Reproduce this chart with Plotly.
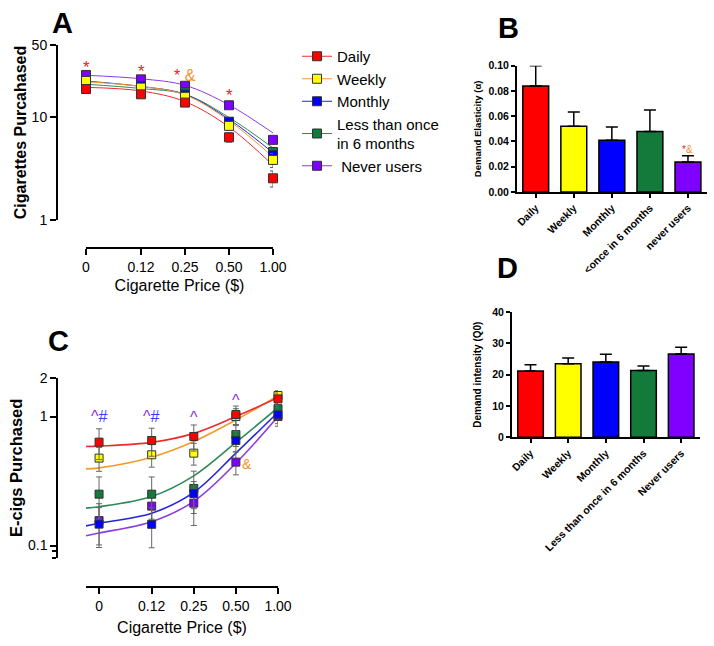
import math
import plotly.graph_objects as go

W, H = 714, 646
FONT = "Liberation Sans, Arial, Helvetica, sans-serif"

# ---------------- data ----------------
prices = ["0", "0.12", "0.25", "0.50", "1.00"]
group_names = ["Daily", "Weekly", "Monthly", "Less than once<br>in 6 months", " Never users"]
group_colors = ["#FF0000", "#FFFF00", "#0000FF", "#137A3C", "#7F00FF"]
fit_colors = ["#EE2B2B", "#F29A2E", "#2525D8", "#2E8B57", "#8B3BE6"]

# Panel A: cigarettes purchased
cig_daily = [18.7, 16.6, 13.8, 6.35, 2.54]
cig_weekly = [22.4, 19.3, 15.7, 8.2, 3.83]
cig_monthly = [22.0, 20.0, 16.5, 8.9, 4.27]
cig_less6 = [20.3, 18.3, 17.4, 9.0, 4.57]
cig_never = [25.6, 23.2, 20.1, 13.0, 6.0]
cig_err_daily = [1.2, 1.0, 0.9, 0.65, 0.45]
cig_err_weekly = [1.5, 1.2, 1.0, 0.7, 0.6]
cig_err_monthly = [1.4, 1.2, 1.0, 0.6, 0.45]
cig_err_less6 = [1.3, 1.1, 1.0, 0.7, 0.5]
cig_err_never = [1.6, 1.4, 1.2, 0.8, 0.5]
cig_fit_daily = [19.4, 17.9, 14.1, 8.0, 3.4]
cig_fit_weekly = [22.0, 19.8, 16.4, 9.2, 4.1]
cig_fit_monthly = [22.3, 19.8, 16.6, 9.5, 4.5]
cig_fit_less6 = [20.8, 18.9, 16.6, 9.9, 5.0]
cig_fit_never = [25.4, 23.5, 20.3, 13.1, 7.0]

# Panel C: e-cigs purchased
ecig_daily = [0.633, 0.652, 0.70, 1.036, 1.37]
ecig_weekly = [0.476, 0.505, 0.52, 1.0, 1.455]
ecig_monthly = [0.1465, 0.146, 0.253, 0.652, 1.03]
ecig_less6 = [0.25, 0.25, 0.277, 0.725, 1.15]
ecig_never = [0.156, 0.202, 0.213, 0.443, 1.0]
ecig_err_daily = [0.17, 0.16, 0.16, 0.17, 0.15]
ecig_err_weekly = [0.10, 0.10, 0.10, 0.15, 0.13]
ecig_err_monthly = [0.05, 0.05, 0.06, 0.12, 0.15]
ecig_err_less6 = [0.09, 0.09, 0.10, 0.14, 0.12]
ecig_err_never = [0.055, 0.06, 0.07, 0.09, 0.16]
# fitted curves: value at axis start, then at each price
ecig_fit_daily = [0.585, 0.59, 0.63, 0.74, 1.0, 1.40]
ecig_fit_weekly = [0.393, 0.40, 0.484, 0.64, 0.94, 1.45]
ecig_fit_monthly = [0.142, 0.149, 0.178, 0.258, 0.52, 1.08]
ecig_fit_less6 = [0.195, 0.20, 0.24, 0.347, 0.63, 1.17]
ecig_fit_never = [0.119, 0.125, 0.153, 0.22, 0.435, 1.0]

# Panel B: demand elasticity
b_labels = ["Daily", "Weekly", "Monthly", "&lt;once in 6 months", "never users"]
elasticity = [0.084, 0.052, 0.041, 0.048, 0.0237]
elasticity_err = [0.016, 0.0113, 0.0105, 0.017, 0.005]

# Panel D: demand intensity
d_labels = ["Daily", "Weekly", "Monthly", "Less than once in 6 months", "Never users"]
intensity = [21.2, 23.5, 24.06, 21.3, 26.6]
intensity_err = [2.0, 1.8, 2.45, 1.5, 2.15]

cig_vals = [cig_daily, cig_weekly, cig_monthly, cig_less6, cig_never]
cig_errs = [cig_err_daily, cig_err_weekly, cig_err_monthly, cig_err_less6, cig_err_never]
cig_fits = [cig_fit_daily, cig_fit_weekly, cig_fit_monthly, cig_fit_less6, cig_fit_never]
ecig_vals = [ecig_daily, ecig_weekly, ecig_monthly, ecig_less6, ecig_never]
ecig_errs = [ecig_err_daily, ecig_err_weekly, ecig_err_monthly, ecig_err_less6, ecig_err_never]
ecig_fits = [ecig_fit_daily, ecig_fit_weekly, ecig_fit_monthly, ecig_fit_less6, ecig_fit_never]

# ---------------- layout helpers ----------------
def fx(px):
    return px / W

def fy(py):
    return 1 - py / H

# price axis: first gap is wider than the rest (as in the original)
price_pos = [i + (0.25 if i > 0 else 0) for i in range(len(prices))]
XR_A = [0, price_pos[-1]]
XR_C = [-0.31, price_pos[-1]]

fig = go.Figure()

# legend entries (panel A)
for name, col, fcol in zip(group_names, group_colors, fit_colors):
    fig.add_trace(go.Scatter(
        x=[None], y=[None], mode="lines+markers", name=name,
        line=dict(color=fcol, width=1),
        marker=dict(symbol="square", size=9, color=col, line=dict(color="#333", width=1)),
        xaxis="x", yaxis="y", showlegend=True))

order = [4, 3, 2, 1, 0]  # draw never users first, daily on top

# Panel A curves and points
for g in order:
    fig.add_trace(go.Scatter(x=price_pos, y=cig_fits[g], mode="lines",
                             line=dict(color=fit_colors[g], width=1, shape="spline"),
                             xaxis="x", yaxis="y", showlegend=False, hoverinfo="skip"))
for g in order:
    fig.add_trace(go.Scatter(x=price_pos, y=cig_vals[g], mode="markers", name=group_names[g],
                             marker=dict(symbol="square", size=9, color=group_colors[g],
                                         line=dict(color="#333", width=1)),
                             error_y=dict(type="data", array=cig_errs[g], color="#555", thickness=1, width=3),
                             cliponaxis=False, xaxis="x", yaxis="y", showlegend=False))

# Panel C curves and points
fit_x_C = [XR_C[0]] + price_pos
for g in order:
    fig.add_trace(go.Scatter(x=fit_x_C, y=ecig_fits[g], mode="lines",
                             line=dict(color=fit_colors[g], width=1.6, shape="spline"),
                             xaxis="x3", yaxis="y3", showlegend=False, hoverinfo="skip"))
for g in order:
    fig.add_trace(go.Scatter(x=price_pos, y=ecig_vals[g], mode="markers", name=group_names[g],
                             marker=dict(symbol="square", size=8, color=group_colors[g],
                                         line=dict(color="#333", width=1)),
                             error_y=dict(type="data", array=ecig_errs[g], color="#666", thickness=1, width=3),
                             cliponaxis=False, xaxis="x3", yaxis="y3", showlegend=False))

# Panel B bars
fig.add_trace(go.Bar(x=b_labels, y=elasticity,
                     marker=dict(color=group_colors, line=dict(color="black", width=1.5)),
                     error_y=dict(type="data", array=elasticity_err, arrayminus=[0] * 5, symmetric=False,
                                  color="black", thickness=1.5, width=6),
                     xaxis="x2", yaxis="y2", showlegend=False))
# Panel D bars
fig.add_trace(go.Bar(x=d_labels, y=intensity,
                     marker=dict(color=group_colors, line=dict(color="black", width=1.5)),
                     error_y=dict(type="data", array=intensity_err, arrayminus=[0] * 5, symmetric=False,
                                  color="black", thickness=1.5, width=6),
                     xaxis="x4", yaxis="y4", showlegend=False))

base = dict(showline=True, linecolor="black", linewidth=2, ticks="outside", tickcolor="black",
            tickwidth=2, showgrid=False, zeroline=False, automargin=False)
bold10 = dict(family=FONT, size=10.5, color="black", weight="bold")

fig.update_layout(
    width=W, height=H, margin=dict(l=0, r=0, t=0, b=0),
    paper_bgcolor="white", plot_bgcolor="white",
    font=dict(family=FONT, color="black"),
    bargap=0.32,
    legend=dict(x=fx(297), y=fy(40), xanchor="left", yanchor="top",
                font=dict(family=FONT, size=15, color="black"),
                itemwidth=30, tracegroupgap=0, bgcolor="rgba(0,0,0,0)"),
    # Panel A
    xaxis=dict(base, domain=[fx(86), fx(273)], anchor="free", position=fy(248),
               range=XR_A, tickvals=price_pos, ticktext=prices, ticklen=6,
               tickfont=dict(family=FONT, size=14),
               title=dict(text="Cigarette Price ($)", font=dict(family=FONT, size=16), standoff=5)),
    yaxis=dict(base, domain=[fy(220), fy(45)], anchor="free", position=fx(57), type="log",
               range=[0, math.log10(50)], tickvals=[1, 10, 50], ticktext=["1", "10", "50"], ticklen=6,
               tickfont=dict(family=FONT, size=14),
               title=dict(text="Cigarettes Purcahased", font=dict(family=FONT, size=16, weight="bold"), standoff=0)),
    # Panel B
    xaxis2=dict(base, domain=[fx(516.7), fx(707)], anchor="y2", type="category", range=[-0.5, 4.5],
                ticklen=4, tickwidth=1.5, linewidth=1.5, tickangle=-45, tickfont=bold10),
    yaxis2=dict(base, domain=[fy(192), fy(65.7)], anchor="x2", range=[0, 0.1],
                tickvals=[0, 0.02, 0.04, 0.06, 0.08, 0.1], tickformat=".2f", ticklen=4, tickwidth=1.5,
                linewidth=1.5, tickfont=bold10,
                title=dict(text="Demand Elasticity (α)", font=dict(family=FONT, size=9.5, weight="bold"), standoff=5)),
    # Panel C
    xaxis3=dict(base, domain=[fx(86), fx(278)], anchor="free", position=fy(586.7),
                range=XR_C, tickvals=price_pos, ticktext=prices, ticklen=6,
                tickfont=dict(family=FONT, size=14),
                title=dict(text="Cigarette Price ($)", font=dict(family=FONT, size=16), standoff=8)),
    yaxis3=dict(base, domain=[fy(558), fy(377.7)], anchor="free", position=fx(57.3), type="log",
                range=[math.log10(0.08), math.log10(2)], tickvals=[0.1, 1, 2], ticktext=["0.1", "1", "2"],
                ticklen=6, tickfont=dict(family=FONT, size=14),
                minor=dict(tickvals=[0.08, 0.09], ticklen=4, tickwidth=2, tickcolor="black", ticks="outside"),
                title=dict(text="E-cigs Purchased", font=dict(family=FONT, size=16.5, weight="bold"), standoff=0)),
    # Panel D
    xaxis4=dict(base, domain=[fx(511.7), fx(700)], anchor="y4", type="category", range=[-0.5, 4.5],
                ticklen=4, tickwidth=1.5, linewidth=1.5, tickangle=-45, tickfont=bold10),
    yaxis4=dict(base, domain=[fy(437.3), fy(312)], anchor="x4", range=[0, 40],
                tickvals=[0, 10, 20, 30, 40], ticklen=4, tickwidth=1.5, linewidth=1.5, tickfont=bold10,
                title=dict(text="Demand intensity (Q0)", font=dict(family=FONT, size=10, weight="bold"), standoff=9)),
)

ORANGE = "#F0922B"
RED = "#E8231F"
PURP = "#8A2BE2"
BLUE = "#3B3BFF"
ann = []
# panel letters
for letter, px, py in [("A", 62, 23), ("B", 508, 28), ("C", 58, 341), ("D", 507, 268)]:
    ann.append(dict(x=fx(px), y=fy(py), xref="paper", yref="paper", text=letter, showarrow=False,
                    xanchor="center", yanchor="middle", font=dict(family=FONT, size=29, weight="bold", color="black")))
# panel A significance marks
for i, ylog in [(0, 1.48), (1, 1.44), (3, 1.21)]:
    ann.append(dict(x=price_pos[i], y=ylog, xref="x", yref="y", text="*", showarrow=False,
                    font=dict(family=FONT, size=17, color=RED)))
ann.append(dict(x=price_pos[2], y=1.40, xref="x", yref="y", showarrow=False,
                text=f'<span style="color:{RED}">*</span> <span style="color:{ORANGE}">&amp;</span>',
                font=dict(family=FONT, size=16)))
# panel C marks
for i, txt, ylog in [(0, "^#", 0.0), (1, "^#", 0.0), (2, "^", -0.01), (3, "^", 0.125)]:
    t = f'<span style="color:{PURP}">^</span>' + (f'<span style="color:{BLUE}">#</span>' if "#" in txt else "")
    ann.append(dict(x=price_pos[i], y=ylog, xref="x3", yref="y3", text=t, showarrow=False,
                    font=dict(family=FONT, size=16)))
ann.append(dict(x=price_pos[3], y=-0.367, xref="x3", yref="y3", text="&amp;", showarrow=False,
                xshift=11, font=dict(family=FONT, size=14, color=ORANGE)))
# panel B mark
ann.append(dict(x=4, y=0.034, xref="x2", yref="y2", showarrow=False,
                text=f'<span style="color:{RED}">*</span><span style="color:{ORANGE}">&amp;</span>',
                font=dict(family=FONT, size=10)))
fig.update_layout(annotations=ann)

fig.write_html("out.html", config={"displayModeBar": False},
               post_script="document.body.style.margin='0';")
